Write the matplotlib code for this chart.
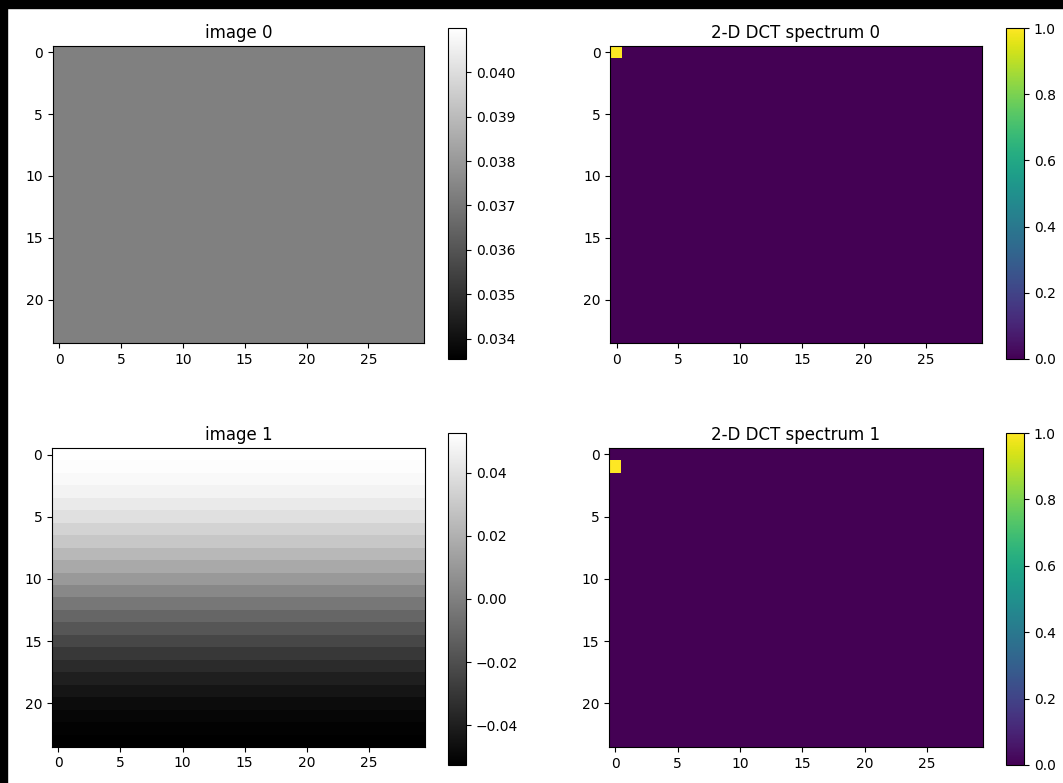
import numpy as np
import matplotlib
matplotlib.use('Agg')
import matplotlib.pyplot as plt
from matplotlib.patches import Rectangle

# ukuran citra (baris x kolom)
n_rows = 24
n_cols = 30

# citra 0: nilai konstan
image0_value = 0.03727

# citra 1: nilai per baris (sama untuk semua kolom)
image1_rows = [0.05259, 0.05169, 0.04991, 0.04727, 0.04382, 0.03963,
               0.03475, 0.02928, 0.02331, 0.01694, 0.01028, 0.00345,
               -0.00345, -0.01028, -0.01694, -0.02331, -0.02928, -0.03475,
               -0.03963, -0.04382, -0.04727, -0.04991, -0.05169, -0.05259]

# spektrum DCT: posisi koefisien bernilai 1 (baris, kolom)
spectrum0_peak = (0, 0)
spectrum1_peak = (1, 0)

titles_img = ['image 0', 'image 1']
titles_spec = ['2-D DCT spectrum 0', '2-D DCT spectrum 1']

img0 = np.full((n_rows, n_cols), image0_value)
img1 = np.repeat(np.array(image1_rows)[:, None], n_cols, axis=1)
spec0 = np.zeros((n_rows, n_cols))
spec0[spectrum0_peak] = 1.0
spec1 = np.zeros((n_rows, n_cols))
spec1[spectrum1_peak] = 1.0

W, H = 1063, 783
fig = plt.figure(figsize=(W / 100, H / 100), dpi=100)


def box(x0, y0, x1, y1):
    # piksel (dari atas) -> koordinat figure
    return [x0 / W, 1 - y1 / H, (x1 - x0) / W, (y1 - y0) / H]


# garis hitam di tepi atas dan kiri (seperti tangkapan layar)
fig.patches.append(Rectangle((0, 1 - 8 / H), 1, 8 / H, transform=fig.transFigure,
                             color='black', zorder=10))
fig.patches.append(Rectangle((0, 0), 7 / W, 1, transform=fig.transFigure,
                             color='black', zorder=10))

rows_y = [(46, 343, 28, 359), (448, 747, 433, 765)]
images = [img0, img1]
spectra = [spec0, spec1]

for i in range(2):
    ay0, ay1, cy0, cy1 = rows_y[i]

    ax = fig.add_axes(box(52, ay0, 425, ay1))
    im = ax.imshow(images[i], cmap='gray')
    ax.set_title(titles_img[i])
    cax = fig.add_axes(box(448, cy0, 466, cy1))
    fig.colorbar(im, cax=cax)

    ax2 = fig.add_axes(box(609, ay0, 983, ay1))
    im2 = ax2.imshow(spectra[i], cmap='viridis')
    ax2.set_title(titles_spec[i])
    cax2 = fig.add_axes(box(1006, cy0, 1024, cy1))
    fig.colorbar(im2, cax=cax2)

fig.savefig('out.png', dpi=100)
